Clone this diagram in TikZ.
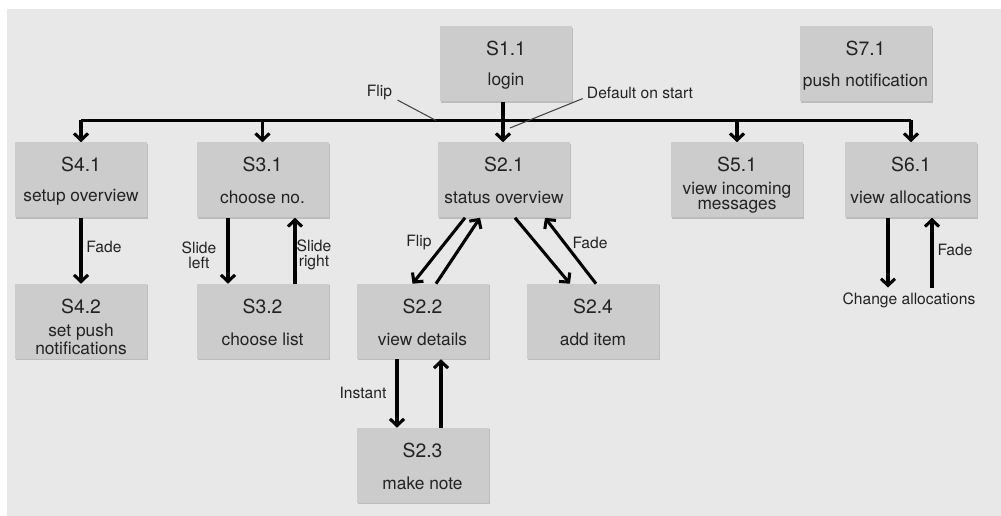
\documentclass[tikz,border=0pt]{standalone}
\usepackage{fontspec}
\setmainfont{TeX Gyre Heros}
\usetikzlibrary{arrows.meta,calc,shadows}
\definecolor{bgc}{HTML}{E8E8E8}
\definecolor{boxc}{HTML}{CCCCCC}
\definecolor{shc}{HTML}{BCBCBC}
\definecolor{txc}{HTML}{222222}
\definecolor{annc}{HTML}{444444}
\newcommand\stbox[4]{%
  \node[box] (#1) at (#2) {};
  \node[ttl] (#1t) at ([yshift=-16.8pt]#1.north) {#3};
  \node[sub] (#1s) at ([yshift=-41.5pt]#1.north) {#4};
}
\begin{document}
\begin{tikzpicture}[x=0.75pt,y=-0.75pt,
  box/.style={rectangle, fill=boxc, minimum width=99pt, minimum height=56.25pt, inner sep=0pt,
    drop shadow={shadow xshift=0.8pt, shadow yshift=-0.8pt, fill=shc, opacity=1}},
  ttl/.style={inner sep=0pt, text=txc, font=\fontsize{14.5}{17}\selectfont},
  sub/.style={inner sep=0pt, text=txc, align=center, font=\fontsize{13}{11.3}\selectfont},
  lbl/.style={inner sep=1pt, text=txc, align=center, font=\fontsize{11.7}{11.3}\selectfont},
  bar/.style={line width=2.3pt, black},
  arr/.style={line width=2.3pt, black, line join=miter, -{Straight Barb[length=5pt,width=10.5pt]}},
  ann/.style={line width=0.8pt, annc}
]
\useasboundingbox (0,0) rectangle (1001,516);
\fill[bgc] (7,9) rectangle (1001,516);

% boxes
\stbox{s11}{506,64}{S1.1}{login}
\stbox{s71}{865.5,64}{S7.1}{push notification}
\stbox{s41}{81,180}{S4.1}{setup overview}
\stbox{s31}{262.5,180}{S3.1}{choose no.}
\stbox{s21}{504,180}{S2.1}{status overview}
\stbox{s51}{737,180}{S5.1}{view incoming\\messages}
\stbox{s61}{911,180}{S6.1}{view allocations}
\stbox{s42}{81,321.5}{S4.2}{set push\\notifications}
\stbox{s32}{262.5,321.5}{S3.2}{choose list}
\stbox{s22}{422.5,321.5}{S2.2}{view details}
\stbox{s24}{593,321.5}{S2.4}{add item}
\stbox{s23}{422.5,465.5}{S2.3}{make note}

% bus
\coordinate (bus) at (0,120.5);
\draw[bar] (s41.north |- bus) -- (s61.north |- bus);
\foreach \s in {s41,s31,s51,s61}{
  \draw[arr] (\s.north |- bus) -- (\s.north);
}
\coordinate (a11) at ($(s11.south)+(-3,0)$);
\draw[arr] (a11) -- (a11 |- s21.north);

% annotations
\node[lbl] (flipL) at (379.5,92.5) {Flip};
\coordinate (flipP) at (436,120.5);
\draw[ann] ([xshift=3pt,yshift=1pt]flipL.south east) -- (flipP);
\node[lbl] (dos) at (640,92.5) {Default on start};
\coordinate (dosP) at (510,128);
\draw[ann] ([xshift=-2pt,yshift=1pt]dos.south west) -- (dosP);

% S4
\draw[arr] (s41) -- (s42);
\node[lbl] (fade4) at (104,247) {Fade};

% S3
\draw[arr] ($(s31.south)+(-34.5,0)$) -- ($(s32.north)+(-34.5,0)$);
\draw[arr] ($(s32.north)+(32.5,0)$) -- ($(s31.south)+(32.5,0)$);
\node[lbl] (sll) at (199,255) {Slide\\left};
\node[lbl] (slr) at (314,255) {Slide\\right};

% S2.1 - S2.2
\draw[arr] ($(s21.south)+(-39,0)$) -- ($(s22.north)+(-10,0)$);
\draw[arr] ($(s22.north)+(13.5,0)$) -- ($(s21.south)+(-24,0)$);
\node[lbl] (flip2) at (419,243) {Flip};

% S2.1 - S2.4
\draw[arr] ($(s21.south)+(11,0)$) -- ($(s24.north)+(-23,0)$);
\draw[arr] ($(s24.north)+(3,0)$) -- ($(s21.south)+(41,0)$);
\node[lbl] (fade24) at (590,243) {Fade};

% S2.2 - S2.3
\draw[arr] ($(s22.south)+(-25.5,0)$) -- ($(s23.north)+(-25.5,0)$);
\draw[arr] ($(s23.north)+(18.5,0)$) -- ($(s22.south)+(18.5,0)$);
\node[lbl] (inst) at (363,393) {Instant};

% S6.1
\node[lbl] (chg) at (909,300) {Change allocations};
\coordinate (c1) at ($(s61.south)+(-23,0)$);
\coordinate (c2) at ($(s61.south)+(21,0)$);
\draw[arr, shorten >=2.5pt] (c1) -- (c1 |- chg.north);
\draw[arr, shorten <=2.5pt] (c2 |- chg.north) -- (c2);
\node[lbl] (fade6) at (955,250) {Fade};
\end{tikzpicture}
\end{document}
